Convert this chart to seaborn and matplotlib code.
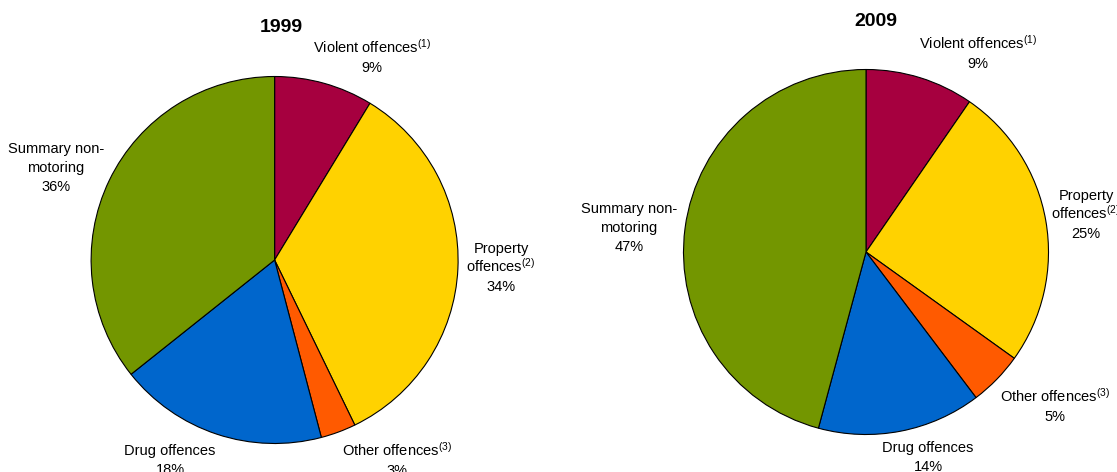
import matplotlib
matplotlib.use("Agg")
import matplotlib.pyplot as plt
import seaborn as sns

# ---- data ----
categories = ["Violent offences", "Property offences", "Other offences",
              "Drug offences", "Summary non-motoring"]
years = ["1999", "2009"]
shares_1999 = [8.7, 34.1, 3.1, 18.4, 35.7]
shares_2009 = [9.6, 25.3, 4.8, 14.5, 45.8]
pct_1999 = ["9%", "34%", "3%", "18%", "36%"]
pct_2009 = ["9%", "25%", "5%", "14%", "47%"]
label_lines = [["Violent offences$^{(1)}$"],
               ["Property", "offences$^{(2)}$"],
               ["Other offences$^{(3)}$"],
               ["Drug offences"],
               ["Summary non-", "motoring"]]

# ---- style ----
colors = ["#A6003F", "#FFD200", "#FF5A00", "#0066CC", "#739600"]
sns.set_theme(style="white")
plt.rcParams["font.family"] = ["Liberation Sans", "DejaVu Sans"]
plt.rcParams["mathtext.fontset"] = "custom"
plt.rcParams["mathtext.rm"] = "Liberation Sans"
plt.rcParams["mathtext.default"] = "regular"

W, H = 1117, 472
fig = plt.figure(figsize=(W / 100, H / 100), dpi=100)
fig.patch.set_facecolor("white")

# layout (pixels): pie centre, radius, title position, label anchors
pie_layout = [
    dict(c=(274.6, 260.0), r=183.5, title=(281, 28),
         labels=[(372, 48), (501, 248), (397, 451), (170, 450), (56, 148)]),
    dict(c=(866.0, 252.0), r=182.5, title=(875.5, 22),
         labels=[(978, 44), (1086, 195), (1055, 397), (928, 447), (629, 208)]),
]
line_gap = 19
font_size = 10.5

for shares, pcts, year, lay in zip([shares_1999, shares_2009],
                                   [pct_1999, pct_2009], years, pie_layout):
    cx, cy = lay["c"]
    r = lay["r"]
    ax = fig.add_axes([(cx - r) / W, (H - cy - r) / H, 2 * r / W, 2 * r / H])
    ax.pie(shares, colors=colors, startangle=90, counterclock=False,
           wedgeprops=dict(edgecolor="black", linewidth=0.8))
    ax.set_xlim(-1, 1)
    ax.set_ylim(-1, 1)
    ax.set_aspect("auto")
    ax.axis("off")

    def to_data(px, py):
        return (px - cx) / r, (cy - py) / r

    tx, ty = to_data(*lay["title"])
    ax.text(tx, ty, year, ha="center", va="center", fontsize=14,
            fontweight="bold", color="black", clip_on=False)

    for lines, pct, (lx, ly) in zip(label_lines, pcts, lay["labels"]):
        for i, s in enumerate(lines + [pct]):
            dx, dy = to_data(lx, ly + i * line_gap + 5)
            ax.text(dx, dy, s, ha="center", va="baseline", fontsize=font_size,
                    color="black", clip_on=False)

fig.savefig("out.png", dpi=100, facecolor="white")
